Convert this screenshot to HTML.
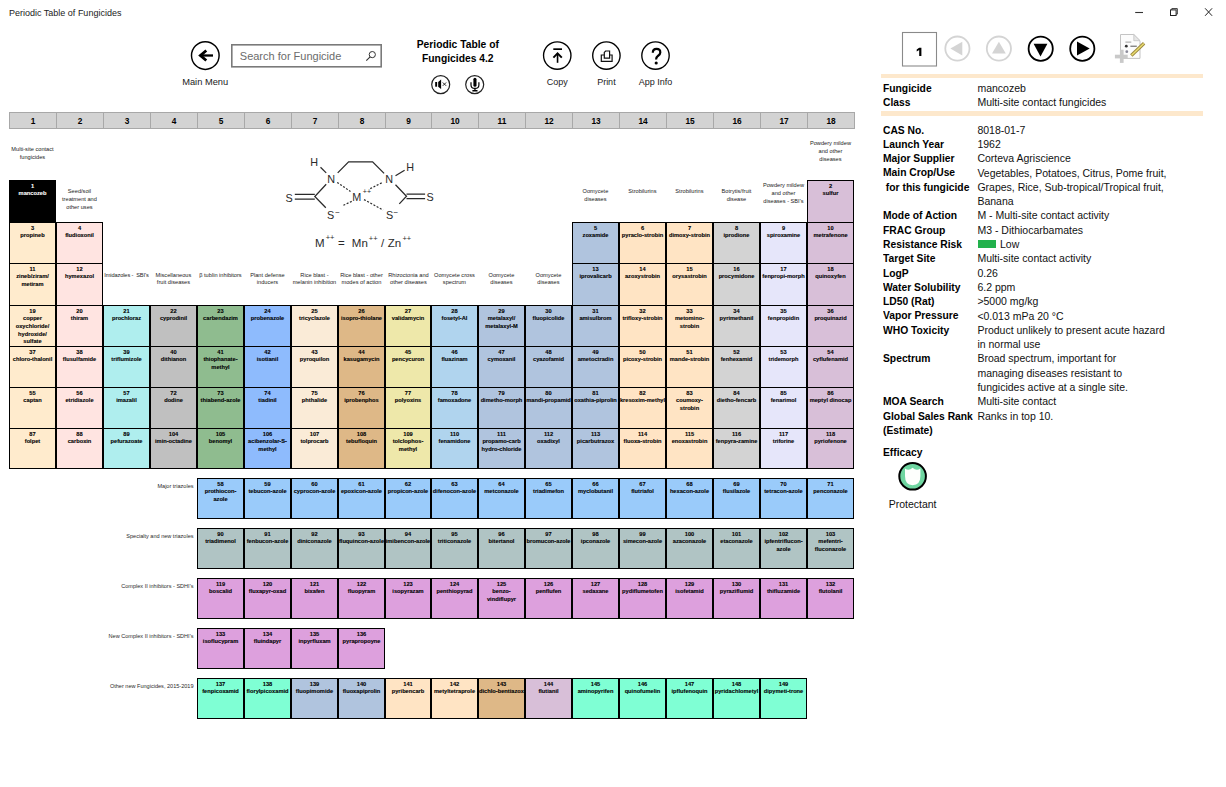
<!DOCTYPE html>
<html><head><meta charset="utf-8">
<style>
html,body{margin:0;padding:0;background:#fff;}
body{width:1226px;height:787px;position:relative;overflow:hidden;font-family:"Liberation Sans",sans-serif;color:#000;}
.abs{position:absolute;}
.title{position:absolute;left:9px;top:8px;font-size:9px;line-height:10px;color:#222;white-space:nowrap;}
.hc{position:absolute;top:112px;height:17px;box-sizing:border-box;background:#D3D3D3;border:1px solid #A8A8A8;font-weight:bold;font-size:8.3px;line-height:17.5px;text-align:center;}
.cell{position:absolute;box-sizing:border-box;border:1px solid #000;overflow:hidden;}
.ct{position:absolute;-webkit-text-stroke:0.1px currentColor;left:-40px;right:-40px;top:1.8px;text-align:center;font-weight:bold;font-size:5.7px;line-height:7.6px;white-space:nowrap;}
.lab{position:absolute;width:80px;text-align:center;font-size:5.65px;line-height:7.7px;color:#222;white-space:nowrap;margin-top:0.6px;}
.llab{position:absolute;margin-top:0.8px;right:1032.5px;font-size:5.55px;line-height:7.5px;color:#2a2a2a;white-space:nowrap;}
.rl{position:absolute;margin-top:1px;left:883px;font-weight:bold;font-size:10.3px;line-height:14.3px;white-space:nowrap;width:92px;overflow:hidden;}
.rv{position:absolute;margin-top:0.2px;left:977.4px;font-size:10.5px;line-height:14.3px;white-space:nowrap;color:#111;}
.risk{display:inline-block;width:18.4px;height:7.9px;background:#22B14C;margin-left:0.6px;margin-right:3.6px;vertical-align:-0.3px;}
.bar{position:absolute;left:881px;width:322px;height:4.3px;background:#FDE8CC;}
.lbl{position:absolute;font-size:9px;line-height:10px;color:#222;white-space:nowrap;text-align:center;width:80px;}
</style></head><body>
<div class="title">Periodic Table of Fungicides</div>

<svg class="abs" style="left:0;top:0" width="1226" height="787" viewBox="0 0 1226 787">
  <!-- main menu back arrow -->
  <circle cx="205.3" cy="55.6" r="13.8" fill="none" stroke="#000" stroke-width="1.45"/>
  <path d="M200.5 55.5 H213" stroke="#000" stroke-width="2.3"/>
  <path d="M198.2 55.5 L205.4 49.6 L207.2 51.6 L202.6 55.5 L207.2 59.4 L205.4 61.4 Z" fill="#000"/>
  <!-- search box -->
  <rect x="231.8" y="44.8" width="149.4" height="22" fill="#fff" stroke="#7A7A7A" stroke-width="1.6"/>
  <circle cx="372.3" cy="54.6" r="3.1" fill="none" stroke="#333" stroke-width="1"/>
  <path d="M370.1 56.8 L366.3 60.6" stroke="#333" stroke-width="1.1"/>
  <!-- speaker / mic -->
  <circle cx="440.7" cy="84.6" r="9" fill="none" stroke="#222" stroke-width="1.2"/>
  <rect x="435.2" y="82" width="1.9" height="4.7" fill="#000"/>
  <path d="M438.2 82 L441.1 79.6 V89.1 L438.2 86.7 Z" fill="#000"/>
  <path d="M442.8 82.5 L446.1 85.8 M446.1 82.5 L442.8 85.8" stroke="#111" stroke-width="0.9"/>
  <circle cx="474.7" cy="84.6" r="9" fill="none" stroke="#222" stroke-width="1.2"/>
  <rect x="473.4" y="77.8" width="3.1" height="9" rx="1.55" fill="#000"/>
  <path d="M471 82.2 V84.9 Q471 88.4 474.95 88.4 Q478.9 88.4 478.9 84.9 V82.2" fill="none" stroke="#000" stroke-width="1.2"/>
  <path d="M474.95 88.4 V90.4" stroke="#000" stroke-width="1.3"/>
  <rect x="472.4" y="90" width="5.1" height="1.5" fill="#000"/>
  <!-- copy / print / help -->
  <circle cx="557.25" cy="55.5" r="13.7" fill="none" stroke="#000" stroke-width="1.35"/>
  <path d="M553.3 49.15 H562" stroke="#000" stroke-width="1.7"/>
  <path d="M557.55 53.5 V62.8" stroke="#000" stroke-width="1.6"/>
  <path d="M553.4 57.7 L557.55 53.3 L561.8 57.7" fill="none" stroke="#000" stroke-width="1.9"/>
  <circle cx="606.4" cy="55.6" r="13.7" fill="none" stroke="#000" stroke-width="1.35"/>
  <path d="M604.2 55 H601.3 V61.3 H612.1 V55 H609.8" fill="none" stroke="#111" stroke-width="1.2"/>
  <path d="M604.3 58.2 V52.4 L605.6 51 H609.6 V58.2 Z" fill="#fff" stroke="#111" stroke-width="1.2"/>
  <circle cx="655.5" cy="55.6" r="13.7" fill="none" stroke="#000" stroke-width="1.35"/>
  <path d="M652.8 52.8 C652.8 50.3 654.4 48.9 656.6 48.9 C658.9 48.9 660.3 50.4 660.3 52.4 C660.3 54.5 658.9 55.3 657.6 56.2 C656.5 56.9 656.1 57.7 656.1 59.5" fill="none" stroke="#000" stroke-width="2.2"/>
  <circle cx="656.2" cy="63" r="1.55" fill="#000"/>
  <!-- window controls -->
  <path d="M1135.2 12.5 H1143" stroke="#333" stroke-width="1.1"/>
  <rect x="1170.5" y="9.9" width="5.6" height="5.6" fill="none" stroke="#222" stroke-width="1"/>
  <path d="M1171.8 9.9 V8.6 H1177.3 V14.1 H1176.1" fill="none" stroke="#222" stroke-width="0.9"/>
  <path d="M1205.1 8.3 L1212.1 15.8 M1212.1 8.3 L1205.1 15.8" stroke="#222" stroke-width="1"/>
  <!-- page box -->
  <rect x="902.5" y="32.5" width="34" height="33.5" fill="#fff" stroke="#8A8A8A" stroke-width="1.1"/>
  <path d="M919.2 47.7 H921.4 V56.1 H919.2 V50.1 L916.7 51.5 V49.4 Z" fill="#000"/>
  <!-- nav circles -->
  <circle cx="957.4" cy="48.6" r="12.1" fill="none" stroke="#D4D4D4" stroke-width="1.8"/>
  <path d="M950.4 48.6 L962.3 41.7 V55.5 Z" fill="#D4D4D4"/>
  <circle cx="998.9" cy="48.6" r="12.1" fill="none" stroke="#D4D4D4" stroke-width="1.8"/>
  <path d="M998.9 41.7 L1005.8 53.6 H992 Z" fill="#D4D4D4"/>
  <circle cx="1040.7" cy="48.7" r="12.1" fill="none" stroke="#000" stroke-width="1.8"/>
  <path d="M1040.5 56.4 L1033.6 43.8 H1047.4 Z" fill="#000"/>
  <circle cx="1082.3" cy="48.7" r="12.1" fill="none" stroke="#000" stroke-width="1.8"/>
  <path d="M1089.7 48.6 L1077 41.6 V55.6 Z" fill="#000"/>
  <!-- report icon -->
  <path d="M1120.5 34.5 H1133.8 L1140 40.7 V58.4 H1120.5 Z" fill="#FCFCFC" stroke="#C4C4C4" stroke-width="1"/>
  <path d="M1133.8 34.5 V40.7 H1140 Z" fill="#E6E6E6" stroke="#C4C4C4" stroke-width="0.8"/>
  <rect x="1125.4" y="41.6" width="5.9" height="1" fill="#A0A0A0"/>
  <circle cx="1126.3" cy="46.2" r="1.4" fill="#333"/>
  <path d="M1130.4 46.2 H1136.8" stroke="#555" stroke-width="1"/>
  <circle cx="1126.8" cy="51.7" r="1.4" fill="#8A8A9A"/>
  <path d="M1131.3 55.6 L1144.1 43.3" stroke="#9C8A40" stroke-width="3.4"/>
  <path d="M1131.6 55.2 L1143.8 43.6" stroke="#EBDD70" stroke-width="1.4"/>
  <rect x="1114.9" y="54.7" width="12.8" height="3.7" fill="#C9C9C9"/>
  <rect x="1119.9" y="49.7" width="3.7" height="13.2" fill="#C9C9C9"/>
  <!-- efficacy icon -->
  <circle cx="912.6" cy="476.3" r="13.3" fill="#6FD6A1" stroke="#000" stroke-width="2"/>
  <path d="M905 468.6 Q908.8 471.5 912.6 467.8 Q916.4 471.5 920.4 468.6 V476 Q920.4 485 912.6 485.2 Q905 485 905 476 Z" fill="#FDFFFD"/>
  <!-- structure diagram -->
  <g fill="none" stroke="#2a2a2a" stroke-width="1.25">
    <path d="M320.5 167.2 L326.2 172.9"/>
    <path d="M337.7 172.9 L348.6 161.9 H372.6 L384.1 173.4"/>
    <path d="M395.5 175.7 L404.6 170.2"/>
    <path d="M326.2 184.3 L314.8 196.5 L325.8 207.7"/>
    <path d="M294.8 194.3 H314.8 M294.8 199.1 H314.8"/>
    <path d="M395.5 184.8 L406.5 196.2 L399.3 203.9"/>
    <path d="M406.5 194.1 H425.1 M406.5 198.6 H425.1"/>
  </g>
  <g fill="none" stroke="#2a2a2a" stroke-width="1.2" stroke-dasharray="2 1.6">
    <path d="M337.2 182.4 L350.5 191.5"/>
    <path d="M343.4 205.3 L352.5 201"/>
    <path d="M381.7 182.9 L369.5 189"/>
    <path d="M364 199.6 L383.1 210"/>
  </g>
  <g font-family="Liberation Sans" font-size="10.8" fill="#2a2a2a">
    <text x="310.2" y="165.8">H</text>
    <text x="327.3" y="183.4">N</text>
    <text x="385.2" y="183.4">N</text>
    <text x="406.2" y="171.4">H</text>
    <text x="285.6" y="202">S</text>
    <text x="426.4" y="201">S</text>
    <text x="352.3" y="201">M</text>
    <text x="362.8" y="194" font-size="7">++</text>
    <text x="327.1" y="218.6">S</text>
    <text x="335.2" y="214.5" font-size="8">&#8722;</text>
    <text x="385.9" y="218.6">S</text>
    <text x="393.6" y="214.5" font-size="8">&#8722;</text>
    <text x="315" y="246.8" font-size="11.5">M</text>
    <text x="325.7" y="240.3" font-size="7.5">++</text>
    <text x="338.1" y="246.8" font-size="11.5">=</text>
    <text x="351.8" y="246.8" font-size="11.5">Mn</text>
    <text x="368.8" y="241.2" font-size="7.5">++</text>
    <text x="380.9" y="246.8" font-size="11.5">/</text>
    <text x="387.8" y="246.8" font-size="11.5">Zn</text>
    <text x="402.4" y="241.2" font-size="7.5">++</text>
  </g>
</svg>

<div class="abs" style="left:239.8px;top:49px;font-size:11px;line-height:14px;color:#6B6B6B;white-space:nowrap">Search for Fungicide</div>
<div class="lbl" style="left:165.2px;top:77px;font-size:9.3px">Main Menu</div>
<div class="abs" style="left:397.8px;top:38px;width:120px;text-align:center;font-weight:bold;font-size:10.3px;line-height:14px;white-space:nowrap">Periodic Table of<br>Fungicides 4.2</div>
<div class="lbl" style="left:517.3px;top:76.5px">Copy</div>
<div class="lbl" style="left:566.4px;top:76.5px">Print</div>
<div class="lbl" style="left:615.5px;top:76.5px">App Info</div>

<div class="bar" style="top:74px"></div>
<div class="bar" style="top:111.3px"></div>
<div class="rl" style="top:80.7px">Fungicide</div>
<div class="rv" style="top:80.7px">mancozeb</div>
<div class="rl" style="top:95px">Class</div>
<div class="rv" style="top:95px">Multi-site contact fungicides</div>
<div class="rl" style="top:122.5px">CAS No.</div>
<div class="rv" style="top:122.5px">8018-01-7</div>
<div class="rl" style="top:136.8px">Launch Year</div>
<div class="rv" style="top:136.8px">1962</div>
<div class="rl" style="top:151.1px">Major Supplier</div>
<div class="rv" style="top:151.1px">Corteva Agriscience</div>
<div class="rl" style="top:165.4px">Main Crop/Use<br>&nbsp;for this fungicide</div>
<div class="rv" style="top:165.4px">Vegetables, Potatoes, Citrus, Pome fruit,<br>Grapes, Rice, Sub-tropical/Tropical fruit,<br>Banana</div>
<div class="rl" style="top:208.3px">Mode of Action</div>
<div class="rv" style="top:208.3px">M - Multi-site contact activity</div>
<div class="rl" style="top:222.6px">FRAC Group</div>
<div class="rv" style="top:222.6px">M3 - Dithiocarbamates</div>
<div class="rl" style="top:236.9px">Resistance Risk</div>
<div class="rv" style="top:236.9px"><span class="risk"></span>Low</div>
<div class="rl" style="top:251.2px">Target Site</div>
<div class="rv" style="top:251.2px">Multi-site contact activity</div>
<div class="rl" style="top:265.5px">LogP</div>
<div class="rv" style="top:265.5px">0.26</div>
<div class="rl" style="top:279.8px">Water Solubility</div>
<div class="rv" style="top:279.8px">6.2 ppm</div>
<div class="rl" style="top:294.1px">LD50 (Rat)</div>
<div class="rv" style="top:294.1px">&gt;5000 mg/kg</div>
<div class="rl" style="top:308.4px">Vapor Pressure</div>
<div class="rv" style="top:308.4px">&lt;0.013 mPa 20 &deg;C</div>
<div class="rl" style="top:322.7px">WHO Toxicity</div>
<div class="rv" style="top:322.7px">Product unlikely to present acute hazard<br>in normal use</div>
<div class="rl" style="top:351.3px">Spectrum</div>
<div class="rv" style="top:351.3px">Broad spectrum, important for<br>managing diseases resistant to<br>fungicides active at a single site.</div>
<div class="rl" style="top:394.2px">MOA Search</div>
<div class="rv" style="top:394.2px">Multi-site contact</div>
<div class="rl" style="top:408.5px">Global Sales Rank<br>(Estimate)</div>
<div class="rv" style="top:408.5px">Ranks in top 10.</div>
<div class="rl" style="top:444.5px">Efficacy</div>
<div class="abs" style="left:862.6px;top:496.5px;width:100px;text-align:center;font-size:10.5px;line-height:14px;white-space:nowrap;color:#111">Protectant</div>

<div class="hc" style="left:9px;width:48px">1</div>
<div class="hc" style="left:56px;width:48px">2</div>
<div class="hc" style="left:103px;width:48px">3</div>
<div class="hc" style="left:150px;width:48px">4</div>
<div class="hc" style="left:197px;width:48px">5</div>
<div class="hc" style="left:244px;width:48px">6</div>
<div class="hc" style="left:291px;width:48px">7</div>
<div class="hc" style="left:338px;width:48px">8</div>
<div class="hc" style="left:385px;width:47px">9</div>
<div class="hc" style="left:431px;width:48px">10</div>
<div class="hc" style="left:478px;width:48px">11</div>
<div class="hc" style="left:525px;width:48px">12</div>
<div class="hc" style="left:572px;width:48px">13</div>
<div class="hc" style="left:619px;width:48px">14</div>
<div class="hc" style="left:666px;width:48px">15</div>
<div class="hc" style="left:713px;width:48px">16</div>
<div class="hc" style="left:760px;width:48px">17</div>
<div class="hc" style="left:807px;width:48px">18</div>
<div class="lab" style="left:-7.54px;top:145.5px">Multi-site contact<br>fungicides</div>
<div class="lab" style="left:790.46px;top:139.5px">Powdery mildew<br>and other<br>diseases</div>
<div class="lab" style="left:39.46px;top:187.5px">Seed/soil<br>treatment and<br>other uses</div>
<div class="lab" style="left:555.46px;top:187.8px">Oomycete<br>diseases</div>
<div class="lab" style="left:602.46px;top:187.8px">Strobilurins</div>
<div class="lab" style="left:649.46px;top:187.8px">Strobilurins</div>
<div class="lab" style="left:696.46px;top:187.8px">Botrytis/fruit<br>disease</div>
<div class="lab" style="left:743.46px;top:181.5px">Powdery mildew<br>and other<br>diseases - SBI's</div>
<div class="lab" style="left:86.46px;top:271.2px"><span style='letter-spacing:-0.12px'>Imidazoles -&nbsp; SBI's</span></div>
<div class="lab" style="left:133.46px;top:271.2px">Miscellaneous<br>fruit diseases</div>
<div class="lab" style="left:180.46px;top:271.2px">&beta; tublin inhibitors</div>
<div class="lab" style="left:227.46px;top:271.2px">Plant defense<br>inducers</div>
<div class="lab" style="left:274.46px;top:271.2px">Rice blast -<br>melanin inhibition</div>
<div class="lab" style="left:321.46px;top:271.2px">Rice blast - other<br>modes of action</div>
<div class="lab" style="left:368.46px;top:271.2px">Rhizoctonia and<br>other diseases</div>
<div class="lab" style="left:414.46px;top:271.2px">Oomycete cross<br>spectrum</div>
<div class="lab" style="left:461.46px;top:271.2px">Oomycete<br>diseases</div>
<div class="lab" style="left:508.46px;top:271.2px">Oomycete<br>diseases</div>
<div class="llab" style="top:482.5px">Major triazoles</div>
<div class="llab" style="top:532.5px">Specialty and new triazoles</div>
<div class="llab" style="top:582.5px">Complex II inhibitors - SDHI's</div>
<div class="llab" style="top:632.5px">New Complex II inhibitors - SDHI's</div>
<div class="llab" style="top:682.5px">Other new Fungicides, 2015-2019</div>
<div class="cell" style="left:9px;top:180px;width:47px;height:43px;background:#000;color:#fff"><div class="ct">1<br>mancozeb</div></div>
<div class="cell" style="left:807px;top:180px;width:47px;height:43px;background:#D8BFD8"><div class="ct">2<br>sulfur</div></div>
<div class="cell" style="left:9px;top:222px;width:47px;height:42px;background:#FFEBCD"><div class="ct">3<br>propineb</div></div>
<div class="cell" style="left:56px;top:222px;width:47px;height:42px;background:#FFE4E1"><div class="ct">4<br>fludioxonil</div></div>
<div class="cell" style="left:572px;top:222px;width:47px;height:42px;background:#B0C4DE"><div class="ct">5<br>zoxamide</div></div>
<div class="cell" style="left:619px;top:222px;width:47px;height:42px;background:#FFE4C4"><div class="ct">6<br>pyraclo-strobin</div></div>
<div class="cell" style="left:666px;top:222px;width:47px;height:42px;background:#FFE4C4"><div class="ct">7<br>dimoxy-strobin</div></div>
<div class="cell" style="left:713px;top:222px;width:47px;height:42px;background:#D3D3D3"><div class="ct">8<br>iprodione</div></div>
<div class="cell" style="left:760px;top:222px;width:47px;height:42px;background:#E6E6FA"><div class="ct">9<br>spiroxamine</div></div>
<div class="cell" style="left:807px;top:222px;width:47px;height:42px;background:#D8BFD8"><div class="ct">10<br>metrafenone</div></div>
<div class="cell" style="left:9px;top:263px;width:47px;height:43px;background:#FFEBCD"><div class="ct">11<br>zineb/ziram/<br>metiram</div></div>
<div class="cell" style="left:56px;top:263px;width:47px;height:43px;background:#FFE4E1"><div class="ct">12<br>hymexazol</div></div>
<div class="cell" style="left:572px;top:263px;width:47px;height:43px;background:#B0C4DE"><div class="ct">13<br>iprovalicarb</div></div>
<div class="cell" style="left:619px;top:263px;width:47px;height:43px;background:#FFE4C4"><div class="ct">14<br>azoxystrobin</div></div>
<div class="cell" style="left:666px;top:263px;width:47px;height:43px;background:#FFE4C4"><div class="ct">15<br>orysastrobin</div></div>
<div class="cell" style="left:713px;top:263px;width:47px;height:43px;background:#D3D3D3"><div class="ct">16<br>procymidone</div></div>
<div class="cell" style="left:760px;top:263px;width:47px;height:43px;background:#E6E6FA"><div class="ct">17<br>fenpropi-morph</div></div>
<div class="cell" style="left:807px;top:263px;width:47px;height:43px;background:#D8BFD8"><div class="ct">18<br>quinoxyfen</div></div>
<div class="cell" style="left:9px;top:305px;width:47px;height:42px;background:#FFEBCD"><div class="ct">19<br>copper<br>oxychloride/<br>hydroxide/<br>sulfate</div></div>
<div class="cell" style="left:56px;top:305px;width:47px;height:42px;background:#FFE4E1"><div class="ct">20<br>thiram</div></div>
<div class="cell" style="left:103px;top:305px;width:47px;height:42px;background:#AFEEEE"><div class="ct">21<br>prochloraz</div></div>
<div class="cell" style="left:150px;top:305px;width:47px;height:42px;background:#C0C0C0"><div class="ct">22<br>cyprodinil</div></div>
<div class="cell" style="left:197px;top:305px;width:47px;height:42px;background:#8FBC8F"><div class="ct">23<br>carbendazim</div></div>
<div class="cell" style="left:244px;top:305px;width:47px;height:42px;background:#8EBBFD"><div class="ct">24<br>probenazole</div></div>
<div class="cell" style="left:291px;top:305px;width:47px;height:42px;background:#FAEBD7"><div class="ct">25<br>tricyclazole</div></div>
<div class="cell" style="left:338px;top:305px;width:47px;height:42px;background:#DEB887"><div class="ct">26<br>isopro-thiolane</div></div>
<div class="cell" style="left:385px;top:305px;width:46px;height:42px;background:#EEE8AA"><div class="ct">27<br>validamycin</div></div>
<div class="cell" style="left:431px;top:305px;width:47px;height:42px;background:#B0D4EE"><div class="ct">28<br>fosetyl-Al</div></div>
<div class="cell" style="left:478px;top:305px;width:47px;height:42px;background:#B0C4DE"><div class="ct">29<br>metalaxyl/<br>metalaxyl-M</div></div>
<div class="cell" style="left:525px;top:305px;width:47px;height:42px;background:#B0C4DE"><div class="ct">30<br>fluopicolide</div></div>
<div class="cell" style="left:572px;top:305px;width:47px;height:42px;background:#B0C4DE"><div class="ct">31<br>amisulbrom</div></div>
<div class="cell" style="left:619px;top:305px;width:47px;height:42px;background:#FFE4C4"><div class="ct">32<br>trifloxy-strobin</div></div>
<div class="cell" style="left:666px;top:305px;width:47px;height:42px;background:#FFE4C4"><div class="ct">33<br>metomino-<br>strobin</div></div>
<div class="cell" style="left:713px;top:305px;width:47px;height:42px;background:#D3D3D3"><div class="ct">34<br>pyrimethanil</div></div>
<div class="cell" style="left:760px;top:305px;width:47px;height:42px;background:#E6E6FA"><div class="ct">35<br>fenpropidin</div></div>
<div class="cell" style="left:807px;top:305px;width:47px;height:42px;background:#D8BFD8"><div class="ct">36<br>proquinazid</div></div>
<div class="cell" style="left:9px;top:346px;width:47px;height:42px;background:#FFEBCD"><div class="ct">37<br>chloro-thalonil</div></div>
<div class="cell" style="left:56px;top:346px;width:47px;height:42px;background:#FFE4E1"><div class="ct">38<br>flusulfamide</div></div>
<div class="cell" style="left:103px;top:346px;width:47px;height:42px;background:#AFEEEE"><div class="ct">39<br>triflumizole</div></div>
<div class="cell" style="left:150px;top:346px;width:47px;height:42px;background:#C0C0C0"><div class="ct">40<br>dithianon</div></div>
<div class="cell" style="left:197px;top:346px;width:47px;height:42px;background:#8FBC8F"><div class="ct">41<br>thiophanate-<br>methyl</div></div>
<div class="cell" style="left:244px;top:346px;width:47px;height:42px;background:#8EBBFD"><div class="ct">42<br>isotianil</div></div>
<div class="cell" style="left:291px;top:346px;width:47px;height:42px;background:#FAEBD7"><div class="ct">43<br>pyroquilon</div></div>
<div class="cell" style="left:338px;top:346px;width:47px;height:42px;background:#DEB887"><div class="ct">44<br>kasugamycin</div></div>
<div class="cell" style="left:385px;top:346px;width:46px;height:42px;background:#EEE8AA"><div class="ct">45<br>pencycuron</div></div>
<div class="cell" style="left:431px;top:346px;width:47px;height:42px;background:#B0D4EE"><div class="ct">46<br>fluazinam</div></div>
<div class="cell" style="left:478px;top:346px;width:47px;height:42px;background:#B0C4DE"><div class="ct">47<br>cymoxanil</div></div>
<div class="cell" style="left:525px;top:346px;width:47px;height:42px;background:#B0C4DE"><div class="ct">48<br>cyazofamid</div></div>
<div class="cell" style="left:572px;top:346px;width:47px;height:42px;background:#B0C4DE"><div class="ct">49<br>ametoctradin</div></div>
<div class="cell" style="left:619px;top:346px;width:47px;height:42px;background:#FFE4C4"><div class="ct">50<br>picoxy-strobin</div></div>
<div class="cell" style="left:666px;top:346px;width:47px;height:42px;background:#FFE4C4"><div class="ct">51<br>mande-strobin</div></div>
<div class="cell" style="left:713px;top:346px;width:47px;height:42px;background:#D3D3D3"><div class="ct">52<br>fenhexamid</div></div>
<div class="cell" style="left:760px;top:346px;width:47px;height:42px;background:#E6E6FA"><div class="ct">53<br>tridemorph</div></div>
<div class="cell" style="left:807px;top:346px;width:47px;height:42px;background:#D8BFD8"><div class="ct">54<br>cyflufenamid</div></div>
<div class="cell" style="left:9px;top:387px;width:47px;height:42px;background:#FFEBCD"><div class="ct">55<br>captan</div></div>
<div class="cell" style="left:56px;top:387px;width:47px;height:42px;background:#FFE4E1"><div class="ct">56<br>etridiazole</div></div>
<div class="cell" style="left:103px;top:387px;width:47px;height:42px;background:#AFEEEE"><div class="ct">57<br>imazalil</div></div>
<div class="cell" style="left:150px;top:387px;width:47px;height:42px;background:#C0C0C0"><div class="ct">72<br>dodine</div></div>
<div class="cell" style="left:197px;top:387px;width:47px;height:42px;background:#8FBC8F"><div class="ct">73<br>thiabend-azole</div></div>
<div class="cell" style="left:244px;top:387px;width:47px;height:42px;background:#8EBBFD"><div class="ct">74<br>tiadinil</div></div>
<div class="cell" style="left:291px;top:387px;width:47px;height:42px;background:#FAEBD7"><div class="ct">75<br>phthalide</div></div>
<div class="cell" style="left:338px;top:387px;width:47px;height:42px;background:#DEB887"><div class="ct">76<br>iprobenphos</div></div>
<div class="cell" style="left:385px;top:387px;width:46px;height:42px;background:#EEE8AA"><div class="ct">77<br>polyoxins</div></div>
<div class="cell" style="left:431px;top:387px;width:47px;height:42px;background:#B0D4EE"><div class="ct">78<br>famoxadone</div></div>
<div class="cell" style="left:478px;top:387px;width:47px;height:42px;background:#B0C4DE"><div class="ct">79<br>dimetho-morph</div></div>
<div class="cell" style="left:525px;top:387px;width:47px;height:42px;background:#B0C4DE"><div class="ct">80<br>mandi-propamid</div></div>
<div class="cell" style="left:572px;top:387px;width:47px;height:42px;background:#B0C4DE"><div class="ct">81<br>oxathia-piprolin</div></div>
<div class="cell" style="left:619px;top:387px;width:47px;height:42px;background:#FFE4C4"><div class="ct">82<br>kresoxim-methyl</div></div>
<div class="cell" style="left:666px;top:387px;width:47px;height:42px;background:#FFE4C4"><div class="ct">83<br>coumoxy-<br>strobin</div></div>
<div class="cell" style="left:713px;top:387px;width:47px;height:42px;background:#D3D3D3"><div class="ct">84<br>dietho-fencarb</div></div>
<div class="cell" style="left:760px;top:387px;width:47px;height:42px;background:#E6E6FA"><div class="ct">85<br>fenarimol</div></div>
<div class="cell" style="left:807px;top:387px;width:47px;height:42px;background:#D8BFD8"><div class="ct">86<br>meptyl dinocap</div></div>
<div class="cell" style="left:9px;top:428px;width:47px;height:41px;background:#FFEBCD"><div class="ct">87<br>folpet</div></div>
<div class="cell" style="left:56px;top:428px;width:47px;height:41px;background:#FFE4E1"><div class="ct">88<br>carboxin</div></div>
<div class="cell" style="left:103px;top:428px;width:47px;height:41px;background:#AFEEEE"><div class="ct">89<br>pefurazoate</div></div>
<div class="cell" style="left:150px;top:428px;width:47px;height:41px;background:#C0C0C0"><div class="ct">104<br>imin-octadine</div></div>
<div class="cell" style="left:197px;top:428px;width:47px;height:41px;background:#8FBC8F"><div class="ct">105<br>benomyl</div></div>
<div class="cell" style="left:244px;top:428px;width:47px;height:41px;background:#8EBBFD"><div class="ct">106<br>acibenzolar-S-<br>methyl</div></div>
<div class="cell" style="left:291px;top:428px;width:47px;height:41px;background:#FAEBD7"><div class="ct">107<br>tolprocarb</div></div>
<div class="cell" style="left:338px;top:428px;width:47px;height:41px;background:#DEB887"><div class="ct">108<br>tebufloquin</div></div>
<div class="cell" style="left:385px;top:428px;width:46px;height:41px;background:#EEE8AA"><div class="ct">109<br>tolclophos-<br>methyl</div></div>
<div class="cell" style="left:431px;top:428px;width:47px;height:41px;background:#B0D4EE"><div class="ct">110<br>fenamidone</div></div>
<div class="cell" style="left:478px;top:428px;width:47px;height:41px;background:#B0C4DE"><div class="ct">111<br>propamo-carb<br>hydro-chloride</div></div>
<div class="cell" style="left:525px;top:428px;width:47px;height:41px;background:#B0C4DE"><div class="ct">112<br>oxadixyl</div></div>
<div class="cell" style="left:572px;top:428px;width:47px;height:41px;background:#B0C4DE"><div class="ct">113<br>picarbutrazox</div></div>
<div class="cell" style="left:619px;top:428px;width:47px;height:41px;background:#FFE4C4"><div class="ct">114<br>fluoxa-strobin</div></div>
<div class="cell" style="left:666px;top:428px;width:47px;height:41px;background:#FFE4C4"><div class="ct">115<br>enoxastrobin</div></div>
<div class="cell" style="left:713px;top:428px;width:47px;height:41px;background:#D3D3D3"><div class="ct">116<br>fenpyra-zamine</div></div>
<div class="cell" style="left:760px;top:428px;width:47px;height:41px;background:#E6E6FA"><div class="ct">117<br>triforine</div></div>
<div class="cell" style="left:807px;top:428px;width:47px;height:41px;background:#D8BFD8"><div class="ct">118<br>pyriofenone</div></div>
<div class="cell" style="left:197px;top:478px;width:47px;height:41px;background:#9ACBFA"><div class="ct">58<br>prothiocon-<br>azole</div></div>
<div class="cell" style="left:244px;top:478px;width:47px;height:41px;background:#9ACBFA"><div class="ct">59<br>tebucon-azole</div></div>
<div class="cell" style="left:291px;top:478px;width:47px;height:41px;background:#9ACBFA"><div class="ct">60<br>cyprocon-azole</div></div>
<div class="cell" style="left:338px;top:478px;width:47px;height:41px;background:#9ACBFA"><div class="ct">61<br>epoxicon-azole</div></div>
<div class="cell" style="left:385px;top:478px;width:46px;height:41px;background:#9ACBFA"><div class="ct">62<br>propicon-azole</div></div>
<div class="cell" style="left:431px;top:478px;width:47px;height:41px;background:#9ACBFA"><div class="ct">63<br>difenocon-azole</div></div>
<div class="cell" style="left:478px;top:478px;width:47px;height:41px;background:#9ACBFA"><div class="ct">64<br>metconazole</div></div>
<div class="cell" style="left:525px;top:478px;width:47px;height:41px;background:#9ACBFA"><div class="ct">65<br>triadimefon</div></div>
<div class="cell" style="left:572px;top:478px;width:47px;height:41px;background:#9ACBFA"><div class="ct">66<br>myclobutanil</div></div>
<div class="cell" style="left:619px;top:478px;width:47px;height:41px;background:#9ACBFA"><div class="ct">67<br>flutriafol</div></div>
<div class="cell" style="left:666px;top:478px;width:47px;height:41px;background:#9ACBFA"><div class="ct">68<br>hexacon-azole</div></div>
<div class="cell" style="left:713px;top:478px;width:47px;height:41px;background:#9ACBFA"><div class="ct">69<br>flusilazole</div></div>
<div class="cell" style="left:760px;top:478px;width:47px;height:41px;background:#9ACBFA"><div class="ct">70<br>tetracon-azole</div></div>
<div class="cell" style="left:807px;top:478px;width:47px;height:41px;background:#9ACBFA"><div class="ct">71<br>penconazole</div></div>
<div class="cell" style="left:197px;top:528px;width:47px;height:41px;background:#B0C4C4"><div class="ct">90<br>triadimenol</div></div>
<div class="cell" style="left:244px;top:528px;width:47px;height:41px;background:#B0C4C4"><div class="ct">91<br>fenbucon-azole</div></div>
<div class="cell" style="left:291px;top:528px;width:47px;height:41px;background:#B0C4C4"><div class="ct">92<br>diniconazole</div></div>
<div class="cell" style="left:338px;top:528px;width:47px;height:41px;background:#B0C4C4"><div class="ct">93<br>fluquincon-azole</div></div>
<div class="cell" style="left:385px;top:528px;width:46px;height:41px;background:#B0C4C4"><div class="ct">94<br>imibencon-azole</div></div>
<div class="cell" style="left:431px;top:528px;width:47px;height:41px;background:#B0C4C4"><div class="ct">95<br>triticonazole</div></div>
<div class="cell" style="left:478px;top:528px;width:47px;height:41px;background:#B0C4C4"><div class="ct">96<br>bitertanol</div></div>
<div class="cell" style="left:525px;top:528px;width:47px;height:41px;background:#B0C4C4"><div class="ct">97<br>bromucon-azole</div></div>
<div class="cell" style="left:572px;top:528px;width:47px;height:41px;background:#B0C4C4"><div class="ct">98<br>ipconazole</div></div>
<div class="cell" style="left:619px;top:528px;width:47px;height:41px;background:#B0C4C4"><div class="ct">99<br>simecon-azole</div></div>
<div class="cell" style="left:666px;top:528px;width:47px;height:41px;background:#B0C4C4"><div class="ct">100<br>azaconazole</div></div>
<div class="cell" style="left:713px;top:528px;width:47px;height:41px;background:#B0C4C4"><div class="ct">101<br>etaconazole</div></div>
<div class="cell" style="left:760px;top:528px;width:47px;height:41px;background:#B0C4C4"><div class="ct">102<br>ipfentriflucon-<br>azole</div></div>
<div class="cell" style="left:807px;top:528px;width:47px;height:41px;background:#B0C4C4"><div class="ct">103<br>mefentri-<br>fluconazole</div></div>
<div class="cell" style="left:197px;top:578px;width:47px;height:41px;background:#DDA0DD"><div class="ct">119<br>boscalid</div></div>
<div class="cell" style="left:244px;top:578px;width:47px;height:41px;background:#DDA0DD"><div class="ct">120<br>fluxapyr-oxad</div></div>
<div class="cell" style="left:291px;top:578px;width:47px;height:41px;background:#DDA0DD"><div class="ct">121<br>bixafen</div></div>
<div class="cell" style="left:338px;top:578px;width:47px;height:41px;background:#DDA0DD"><div class="ct">122<br>fluopyram</div></div>
<div class="cell" style="left:385px;top:578px;width:46px;height:41px;background:#DDA0DD"><div class="ct">123<br>isopyrazam</div></div>
<div class="cell" style="left:431px;top:578px;width:47px;height:41px;background:#DDA0DD"><div class="ct">124<br>penthiopyrad</div></div>
<div class="cell" style="left:478px;top:578px;width:47px;height:41px;background:#DDA0DD"><div class="ct">125<br>benzo-<br>vindiflupyr</div></div>
<div class="cell" style="left:525px;top:578px;width:47px;height:41px;background:#DDA0DD"><div class="ct">126<br>penflufen</div></div>
<div class="cell" style="left:572px;top:578px;width:47px;height:41px;background:#DDA0DD"><div class="ct">127<br>sedaxane</div></div>
<div class="cell" style="left:619px;top:578px;width:47px;height:41px;background:#DDA0DD"><div class="ct">128<br>pydiflumetofen</div></div>
<div class="cell" style="left:666px;top:578px;width:47px;height:41px;background:#DDA0DD"><div class="ct">129<br>isofetamid</div></div>
<div class="cell" style="left:713px;top:578px;width:47px;height:41px;background:#DDA0DD"><div class="ct">130<br>pyraziflumid</div></div>
<div class="cell" style="left:760px;top:578px;width:47px;height:41px;background:#DDA0DD"><div class="ct">131<br>thifluzamide</div></div>
<div class="cell" style="left:807px;top:578px;width:47px;height:41px;background:#DDA0DD"><div class="ct">132<br>flutolanil</div></div>
<div class="cell" style="left:197px;top:628px;width:47px;height:41px;background:#DDA0DD"><div class="ct">133<br>isoflucypram</div></div>
<div class="cell" style="left:244px;top:628px;width:47px;height:41px;background:#DDA0DD"><div class="ct">134<br>fluindapyr</div></div>
<div class="cell" style="left:291px;top:628px;width:47px;height:41px;background:#DDA0DD"><div class="ct">135<br>inpyrfluxam</div></div>
<div class="cell" style="left:338px;top:628px;width:47px;height:41px;background:#DDA0DD"><div class="ct">136<br>pyrapropoyne</div></div>
<div class="cell" style="left:197px;top:678px;width:47px;height:41px;background:#7FFFD4"><div class="ct">137<br>fenpicoxamid</div></div>
<div class="cell" style="left:244px;top:678px;width:47px;height:41px;background:#7FFFD4"><div class="ct">138<br>florylpicoxamid</div></div>
<div class="cell" style="left:291px;top:678px;width:47px;height:41px;background:#B0C4DE"><div class="ct">139<br>fluopimomide</div></div>
<div class="cell" style="left:338px;top:678px;width:47px;height:41px;background:#B0C4DE"><div class="ct">140<br>fluoxapiprolin</div></div>
<div class="cell" style="left:385px;top:678px;width:46px;height:41px;background:#FFE4C4"><div class="ct">141<br>pyribencarb</div></div>
<div class="cell" style="left:431px;top:678px;width:47px;height:41px;background:#FFE4C4"><div class="ct">142<br>metyltetraprole</div></div>
<div class="cell" style="left:478px;top:678px;width:47px;height:41px;background:#DEB887"><div class="ct">143<br>dichlo-bentiazox</div></div>
<div class="cell" style="left:525px;top:678px;width:47px;height:41px;background:#D8BFD8"><div class="ct">144<br>flutianil</div></div>
<div class="cell" style="left:572px;top:678px;width:47px;height:41px;background:#7FFFD4"><div class="ct">145<br>aminopyrifen</div></div>
<div class="cell" style="left:619px;top:678px;width:47px;height:41px;background:#7FFFD4"><div class="ct">146<br>quinofumelin</div></div>
<div class="cell" style="left:666px;top:678px;width:47px;height:41px;background:#7FFFD4"><div class="ct">147<br>ipflufenoquin</div></div>
<div class="cell" style="left:713px;top:678px;width:47px;height:41px;background:#7FFFD4"><div class="ct">148<br>pyridachlometyl</div></div>
<div class="cell" style="left:760px;top:678px;width:47px;height:41px;background:#7FFFD4"><div class="ct">149<br>dipymeti-trone</div></div>
</body></html>
